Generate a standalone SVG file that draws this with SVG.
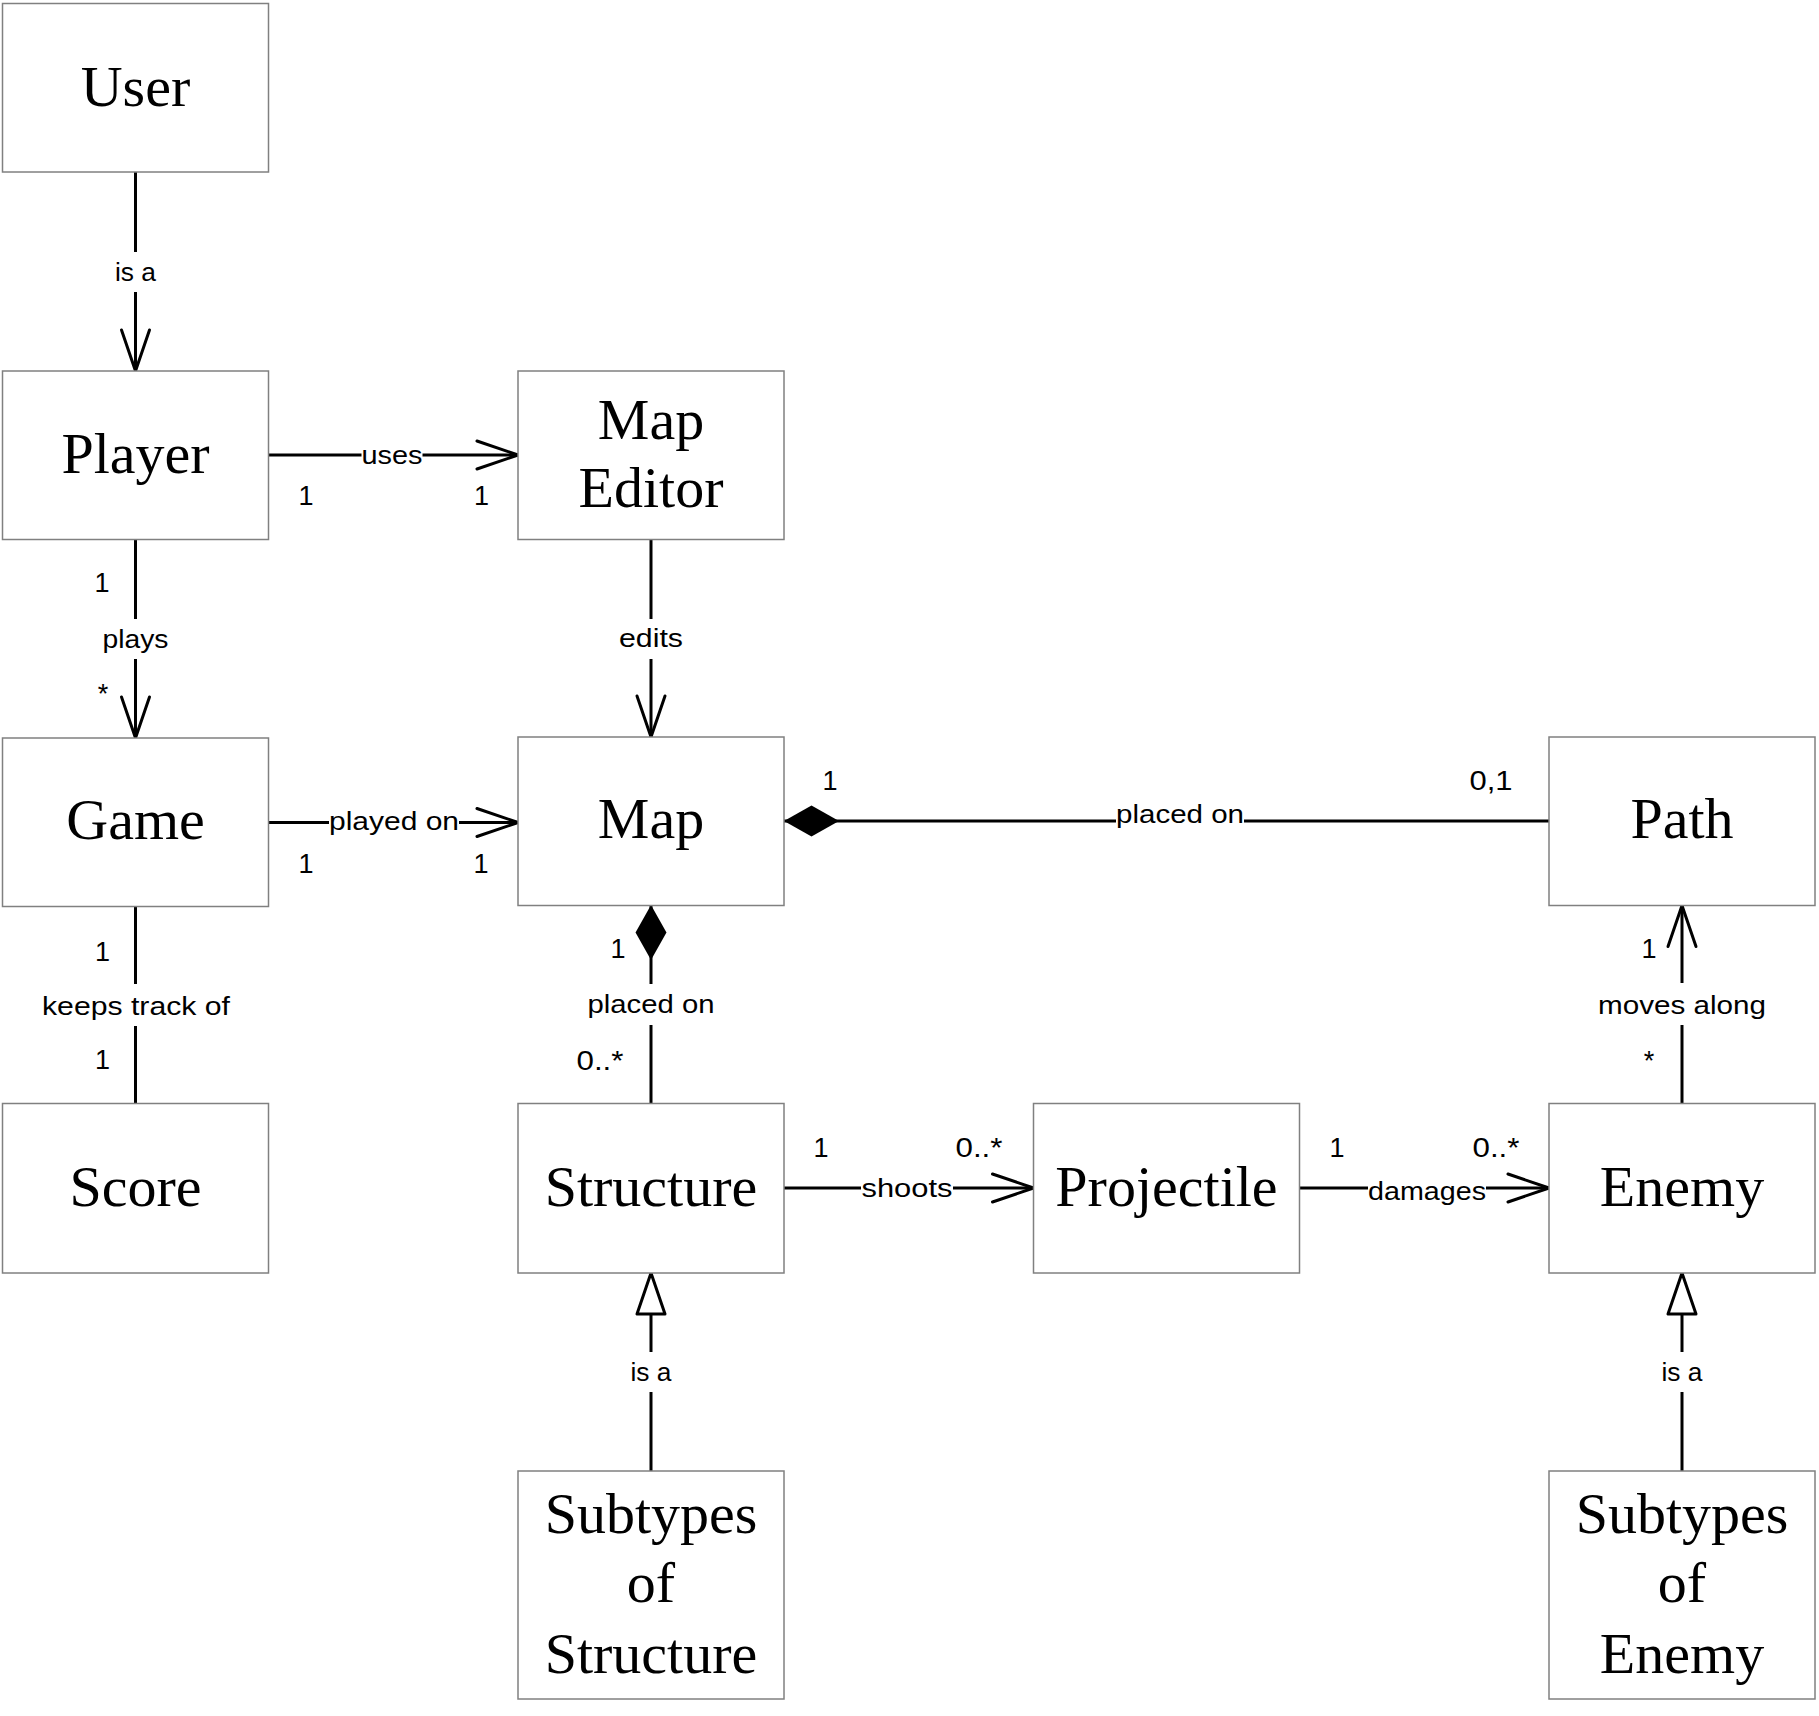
<svg xmlns="http://www.w3.org/2000/svg" width="1819" height="1716" viewBox="0 0 1819 1716">
<style>
.box{fill:#fff;stroke:#808080;stroke-width:1.5}
.nt{font-family:"Liberation Serif","Times New Roman",serif;font-size:58px;fill:#000;text-anchor:middle}
.ln{stroke:#000;stroke-width:3;fill:none}
.lb{font-family:"Liberation Sans",Arial,sans-serif;font-size:26px;fill:#000;text-anchor:middle}
.mu{font-family:"Liberation Sans",Arial,sans-serif;font-size:27px;fill:#000;text-anchor:middle}
.bg{fill:#fff}
</style>
<defs>
<marker id="open" markerUnits="userSpaceOnUse" viewBox="-50 -20 60 40" markerWidth="60" markerHeight="40" refX="0" refY="0" orient="auto" overflow="visible">
<path d="M-41,-14 L0,0 L-41,14" fill="none" stroke="#000" stroke-width="3" stroke-linejoin="round" stroke-linecap="round"/>
</marker>
<marker id="tri" markerUnits="userSpaceOnUse" viewBox="-50 -20 60 40" markerWidth="60" markerHeight="40" refX="0" refY="0" orient="auto" overflow="visible">
<path d="M0,0 L-41,-14 L-41,14 Z" fill="#fff" stroke="#000" stroke-width="3" stroke-linejoin="round"/>
</marker>
<marker id="dia" markerUnits="userSpaceOnUse" viewBox="-5 -20 70 40" markerWidth="70" markerHeight="40" refX="0" refY="0" orient="auto" overflow="visible">
<path d="M0,0 L27.5,-15.5 L55,0 L27.5,15.5 Z" fill="#000" stroke="none"/>
</marker>
</defs>
<rect width="1819" height="1716" fill="#fff"/>

<g id="connectors">
<line class="ln" x1="135.5" y1="172" x2="135.5" y2="371" marker-end="url(#open)"/>
<line class="ln" x1="268.5" y1="455" x2="518" y2="455" marker-end="url(#open)"/>
<line class="ln" x1="135.5" y1="539.5" x2="135.5" y2="738" marker-end="url(#open)"/>
<line class="ln" x1="651" y1="539.5" x2="651" y2="737" marker-end="url(#open)"/>
<line class="ln" x1="268.5" y1="822.5" x2="518" y2="822.5" marker-end="url(#open)"/>
<line class="ln" x1="784" y1="821" x2="1549" y2="821" marker-start="url(#dia)"/>
<line class="ln" x1="651" y1="905" x2="651" y2="1103.5" marker-start="url(#dia)"/>
<line class="ln" x1="135.5" y1="906.5" x2="135.5" y2="1103.5"/>
<line class="ln" x1="784" y1="1188" x2="1033.5" y2="1188" marker-end="url(#open)"/>
<line class="ln" x1="1299.5" y1="1188" x2="1549" y2="1188" marker-end="url(#open)"/>
<line class="ln" x1="1682" y1="1103.5" x2="1682" y2="905.5" marker-end="url(#open)"/>
<line class="ln" x1="651" y1="1471" x2="651" y2="1273" marker-end="url(#tri)"/>
<line class="ln" x1="1682" y1="1471" x2="1682" y2="1273" marker-end="url(#tri)"/>

<rect class="bg" x="113" y="252" width="45" height="40"/>
<rect class="bg" x="361.5" y="441" width="61" height="28"/>
<rect class="bg" x="101" y="619" width="69" height="40"/>
<rect class="bg" x="618" y="619" width="66" height="40"/>
<rect class="bg" x="329" y="808" width="130" height="30"/>
<rect class="bg" x="1116" y="800" width="128" height="32"/>
<rect class="bg" x="586" y="984" width="130" height="41"/>
<rect class="bg" x="42" y="984" width="188" height="42"/>
<rect class="bg" x="861" y="1175" width="92" height="28"/>
<rect class="bg" x="1368" y="1175" width="118" height="32"/>
<rect class="bg" x="1597" y="983" width="170" height="42"/>
<rect class="bg" x="629" y="1352" width="44" height="40"/>
<rect class="bg" x="1660" y="1352" width="44" height="40"/>

<text class="lb" x="135.5" y="281" textLength="41" lengthAdjust="spacingAndGlyphs">is a</text>
<text class="lb" x="392" y="464" textLength="61" lengthAdjust="spacingAndGlyphs">uses</text>
<text class="mu" x="306" y="505">1</text>
<text class="mu" x="481.5" y="505">1</text>
<text class="lb" x="135.5" y="648" textLength="66" lengthAdjust="spacingAndGlyphs">plays</text>
<text class="mu" x="102" y="592">1</text>
<text class="mu" x="103" y="703">*</text>
<text class="lb" x="651" y="647" textLength="64" lengthAdjust="spacingAndGlyphs">edits</text>
<text class="lb" x="394" y="830" textLength="130" lengthAdjust="spacingAndGlyphs">played on</text>
<text class="mu" x="306" y="873">1</text>
<text class="mu" x="481" y="873">1</text>
<text class="lb" x="1180" y="823" textLength="128" lengthAdjust="spacingAndGlyphs">placed on</text>
<text class="mu" x="830" y="790">1</text>
<text class="mu" x="1491" y="790" textLength="43" lengthAdjust="spacingAndGlyphs">0,1</text>
<text class="lb" x="651" y="1013" textLength="127" lengthAdjust="spacingAndGlyphs">placed on</text>
<text class="mu" x="618" y="958">1</text>
<text class="mu" x="600" y="1070" textLength="47" lengthAdjust="spacingAndGlyphs">0..*</text>
<text class="lb" x="136" y="1015" textLength="188" lengthAdjust="spacingAndGlyphs">keeps track of</text>
<text class="mu" x="102.5" y="961">1</text>
<text class="mu" x="102.5" y="1069">1</text>
<text class="lb" x="907" y="1197" textLength="91" lengthAdjust="spacingAndGlyphs">shoots</text>
<text class="mu" x="821" y="1157">1</text>
<text class="mu" x="979" y="1157" textLength="47" lengthAdjust="spacingAndGlyphs">0..*</text>
<text class="lb" x="1427" y="1200" textLength="118" lengthAdjust="spacingAndGlyphs">damages</text>
<text class="mu" x="1337" y="1157">1</text>
<text class="mu" x="1496" y="1157" textLength="47" lengthAdjust="spacingAndGlyphs">0..*</text>
<text class="lb" x="1682" y="1014" textLength="168" lengthAdjust="spacingAndGlyphs">moves along</text>
<text class="mu" x="1649" y="958">1</text>
<text class="mu" x="1649" y="1070">*</text>
<text class="lb" x="651" y="1381" textLength="41" lengthAdjust="spacingAndGlyphs">is a</text>
<text class="lb" x="1682" y="1381" textLength="41" lengthAdjust="spacingAndGlyphs">is a</text>
</g>

<g id="user"><rect class="box" x="2.5" y="3.5" width="266" height="168.5"/><text class="nt" x="135.5" y="106">User</text></g>
<g id="player"><rect class="box" x="2.5" y="371" width="266" height="168.5"/><text class="nt" x="135.5" y="473">Player</text></g>
<g id="mapeditor"><rect class="box" x="518" y="371" width="266" height="168.5"/><text class="nt" x="651" y="439">Map</text><text class="nt" x="651" y="507">Editor</text></g>
<g id="game"><rect class="box" x="2.5" y="738" width="266" height="168.5"/><text class="nt" x="135.5" y="839">Game</text></g>
<g id="map"><rect class="box" x="518" y="737" width="266" height="168.5"/><text class="nt" x="651" y="838">Map</text></g>
<g id="path"><rect class="box" x="1549" y="737" width="266" height="168.5"/><text class="nt" x="1682" y="838">Path</text></g>
<g id="score"><rect class="box" x="2.5" y="1103.5" width="266" height="169.5"/><text class="nt" x="135.5" y="1206">Score</text></g>
<g id="structure"><rect class="box" x="518" y="1103.5" width="266" height="169.5"/><text class="nt" x="651" y="1206">Structure</text></g>
<g id="projectile"><rect class="box" x="1033.5" y="1103.5" width="266" height="169.5"/><text class="nt" x="1166.5" y="1206">Projectile</text></g>
<g id="enemy"><rect class="box" x="1549" y="1103.5" width="266" height="169.5"/><text class="nt" x="1682" y="1206">Enemy</text></g>
<g id="subtypes-structure"><rect class="box" x="518" y="1471" width="266" height="228"/><text class="nt" x="651" y="1533">Subtypes</text><text class="nt" x="651" y="1602">of</text><text class="nt" x="651" y="1672.5">Structure</text></g>
<g id="subtypes-enemy"><rect class="box" x="1549" y="1471" width="266" height="228"/><text class="nt" x="1682" y="1533">Subtypes</text><text class="nt" x="1682" y="1602">of</text><text class="nt" x="1682" y="1672.5">Enemy</text></g>
</svg>
